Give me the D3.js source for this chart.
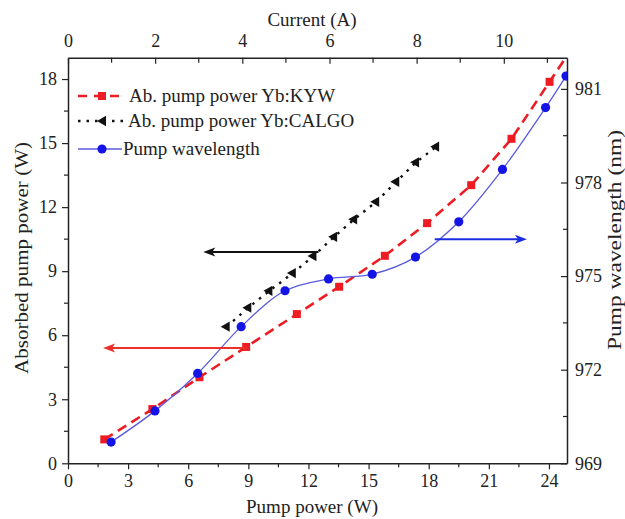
<!DOCTYPE html>
<html><head><meta charset="utf-8">
<script src="https://cdn.jsdelivr.net/npm/d3@7"></script>
<style>
body{margin:0;background:#fff;}
svg, svg text{font-family:"Liberation Serif","Times New Roman",serif !important;}
text{fill:#222;}
</style></head>
<body><svg id="c" width="625" height="519"></svg>
<script>
// ---- data ----
const kywPump = [1.81, 4.21, 6.56, 8.89, 11.42, 13.53, 15.81, 17.92, 20.12, 22.13, 24.03];
const kywAbs  = [1.12, 2.54, 4.03, 5.45, 6.99, 8.27, 9.72, 11.25, 13.03, 15.2, 17.87];
const calgoPump = [7.92, 9.00, 10.05, 11.22, 12.25, 13.28, 14.28, 15.38, 16.38, 17.37, 18.37];
const calgoAbs  = [6.40, 7.29, 8.08, 8.91, 9.71, 10.61, 11.43, 12.25, 13.19, 14.10, 14.83];
const wlPump = [2.15, 4.34, 6.47, 8.64, 10.83, 13.0, 15.18, 17.34, 19.5, 21.68, 23.83, 24.85];
const wlNm   = [969.68, 970.68, 971.88, 973.38, 974.53, 974.91, 975.06, 975.61, 976.74, 978.42, 980.40, 981.41];
const bottomTicks = [0,3,6,9,12,15,18,21,24];
const leftTicks = [0,3,6,9,12,15,18];
const rightTicks = [969,972,975,978,981];
const topTicks = [0,2,4,6,8,10];
const legendLabels = ["Ab. pump power Yb:KYW","Ab. pump power Yb:CALGO","Pump wavelength"];
// annotation arrows (data units)
const arrowRed = {y:5.4, from:8.9, to:1.75};
const arrowBlack = {y:9.9, from:12.5, to:6.75};
const arrowBlue = {y:976.18, from:18.3, to:22.9};

const FONT = "Liberation Serif, Times New Roman, serif";
const svg = d3.select("#c").attr("font-family",FONT);
const L=68, R=567, T=57.7, B=463.3;
const x = d3.scaleLinear([0,24.9],[L,R]);
const xTop = d3.scaleLinear([0,11.45],[L,R]);
const yL = d3.scaleLinear([0,19],[B,T]);
const yR = d3.scaleLinear([969,982],[B,T]);

const red="#ee1c22", blue="#1414e6", blueLine="#5a5ae0";

svg.append("defs").append("clipPath").attr("id","clip")
  .append("rect").attr("x",L).attr("y",T).attr("width",R-L).attr("height",B-T);

function minors(lo,hi,step){const a=[];for(let v=lo;v<=hi+1e-9;v+=step)a.push(+v.toFixed(3));return a;}
const fs = "18px";
// bottom
const gB = svg.append("g").attr("transform",`translate(0,${B})`);
gB.call(d3.axisBottom(x).tickValues(bottomTicks).tickSizeInner(6).tickSizeOuter(0).tickPadding(5).tickFormat(d3.format("d")));
gB.selectAll(".minor").data(minors(1.5,24.9,3)).enter().append("line").attr("x1",d=>x(d)).attr("x2",d=>x(d)).attr("y1",0).attr("y2",4);
// left
const gL = svg.append("g").attr("transform",`translate(${L},0)`);
gL.call(d3.axisLeft(yL).tickValues(leftTicks).tickSizeInner(6).tickSizeOuter(0).tickPadding(5).tickFormat(d3.format("d")));
gL.selectAll(".minor").data(minors(1.5,19,3)).enter().append("line").attr("y1",d=>yL(d)).attr("y2",d=>yL(d)).attr("x1",0).attr("x2",-4);
// right (inward)
const gR = svg.append("g").attr("transform",`translate(${R},0)`);
gR.call(d3.axisRight(yR).tickValues(rightTicks).tickSizeInner(-6).tickSizeOuter(0).tickPadding(8).tickFormat(d3.format("d")));
gR.selectAll(".minor").data(minors(970.5,982,3)).enter().append("line").attr("y1",d=>yR(d)).attr("y2",d=>yR(d)).attr("x1",0).attr("x2",-4);
// top (inward)
const gT = svg.append("g").attr("transform",`translate(0,${T})`);
gT.call(d3.axisTop(xTop).tickValues(topTicks).tickSizeInner(-6).tickSizeOuter(0).tickPadding(11).tickFormat(d3.format("d")));
gT.selectAll(".minor").data(minors(1,11.45,2)).enter().append("line").attr("x1",d=>xTop(d)).attr("x2",d=>xTop(d)).attr("y1",0).attr("y2",5);

[gB,gL,gR,gT].forEach(g=>{
  g.attr("font-family",FONT);
  g.selectAll("text").attr("font-family",FONT).style("font-size",fs).attr("fill","#222");
  g.selectAll("path,line").attr("stroke","#222").attr("stroke-width",1.2);
  g.selectAll(".domain").attr("stroke-width",1.5);
});

// axis titles
function title(tx,ty,rot,t,len){
  const e = svg.append("text").attr("transform",`translate(${tx},${ty})`+(rot?" rotate(-90)":""))
    .attr("text-anchor","middle").attr("font-family",FONT).style("font-size","19px").text(t);
  if(len) e.attr("textLength",len).attr("lengthAdjust","spacingAndGlyphs");
}
title(312,26,false,"Current (A)");
title(312,513,false,"Pump power (W)");
title(28,258,true,"Absorbed pump power (W)",232);
title(621,240,true,"Pump wavelength (nm)",220);

const plot = svg.append("g").attr("clip-path","url(#clip)");

// KYW red dashed line (last segment extended to the frame edge)
const kyw = kywPump.map((p,i)=>[p,kywAbs[i]]);
const n=kyw.length, sl=(kyw[n-1][1]-kyw[n-2][1])/(kyw[n-1][0]-kyw[n-2][0]);
const xEnd = x.domain()[1];
const kywLine = kyw.concat([[xEnd, kyw[n-1][1]+sl*(xEnd-kyw[n-1][0])]]);
plot.append("path").datum(kywLine)
  .attr("d",d3.line().x(d=>x(d[0])).y(d=>yL(d[1])))
  .attr("fill","none").attr("stroke",red).attr("stroke-width",2.6).attr("stroke-dasharray","10,6");

// CALGO black dotted line
const calgo = calgoPump.map((p,i)=>[p,calgoAbs[i]]);
plot.append("path").datum(calgo)
  .attr("d",d3.line().x(d=>x(d[0])).y(d=>yL(d[1])))
  .attr("fill","none").attr("stroke","#111").attr("stroke-width",2.4).attr("stroke-dasharray","2.5,6");

// wavelength blue spline
const wl = wlPump.map((p,i)=>[p,wlNm[i]]);
plot.append("path").datum(wl)
  .attr("d",d3.line().curve(d3.curveCatmullRom.alpha(0.5)).x(d=>x(d[0])).y(d=>yR(d[1])))
  .attr("fill","none").attr("stroke",blueLine).attr("stroke-width",1.3);

// markers
plot.selectAll(".sq").data(kyw).enter().append("rect")
  .attr("x",d=>x(d[0])-4).attr("y",d=>yL(d[1])-4).attr("width",8).attr("height",8).attr("fill",red);
const tri = d3.symbol().type(d3.symbolTriangle).size(46);
plot.selectAll(".tr").data(calgo).enter().append("path")
  .attr("d",tri).attr("transform",d=>`translate(${x(d[0])},${yL(d[1])}) rotate(-90)`).attr("fill","#111");
plot.selectAll(".ci").data(wl).enter().append("circle")
  .attr("cx",d=>x(d[0])).attr("cy",d=>yR(d[1])).attr("r",4.6).attr("fill",blue);

// arrows
function arrow(x1,y1,x2,y2,col,w){
  const dir = x2>x1?1:-1;
  svg.append("line").attr("x1",x1).attr("y1",y1).attr("x2",x2-dir*8).attr("y2",y2).attr("stroke",col).attr("stroke-width",w);
  svg.append("path").attr("d",`M${x2},${y2} L${x2-dir*12},${y2-4.5} L${x2-dir*9},${y2} L${x2-dir*12},${y2+4.5} Z`).attr("fill",col);
}
arrow(x(arrowRed.from),yL(arrowRed.y),x(arrowRed.to),yL(arrowRed.y),"#ec2f2a",2.2);
arrow(x(arrowBlack.from),yL(arrowBlack.y),x(arrowBlack.to),yL(arrowBlack.y),"#111",2);
arrow(x(arrowBlue.from),yR(arrowBlue.y),x(arrowBlue.to),yR(arrowBlue.y),"#1a2ee0",2);

// legend
const lg = svg.append("g");
const rows=[96,121,149];
lg.append("line").attr("x1",78).attr("x2",121).attr("y1",rows[0]).attr("y2",rows[0]).attr("stroke",red).attr("stroke-width",2.6).attr("stroke-dasharray","9,7");
lg.append("rect").attr("x",98).attr("y",rows[0]-4).attr("width",8).attr("height",8).attr("fill",red);
lg.append("line").attr("x1",78).attr("x2",124).attr("y1",rows[1]).attr("y2",rows[1]).attr("stroke","#111").attr("stroke-width",2.4).attr("stroke-dasharray","2.5,6");
lg.append("path").attr("d",tri).attr("transform",`translate(103,${rows[1]}) rotate(-90)`).attr("fill","#111");
lg.append("line").attr("x1",78).attr("x2",122).attr("y1",rows[2]).attr("y2",rows[2]).attr("stroke",blueLine).attr("stroke-width",1.3);
lg.append("circle").attr("cx",102).attr("cy",rows[2]).attr("r",4.6).attr("fill",blue);
const lx=[129,128,123];
legendLabels.forEach((t,i)=>{
  lg.append("text").attr("x",lx[i]).attr("y",rows[i]+6).attr("font-family",FONT).style("font-size","19px").text(t);
});
</script></body></html>
